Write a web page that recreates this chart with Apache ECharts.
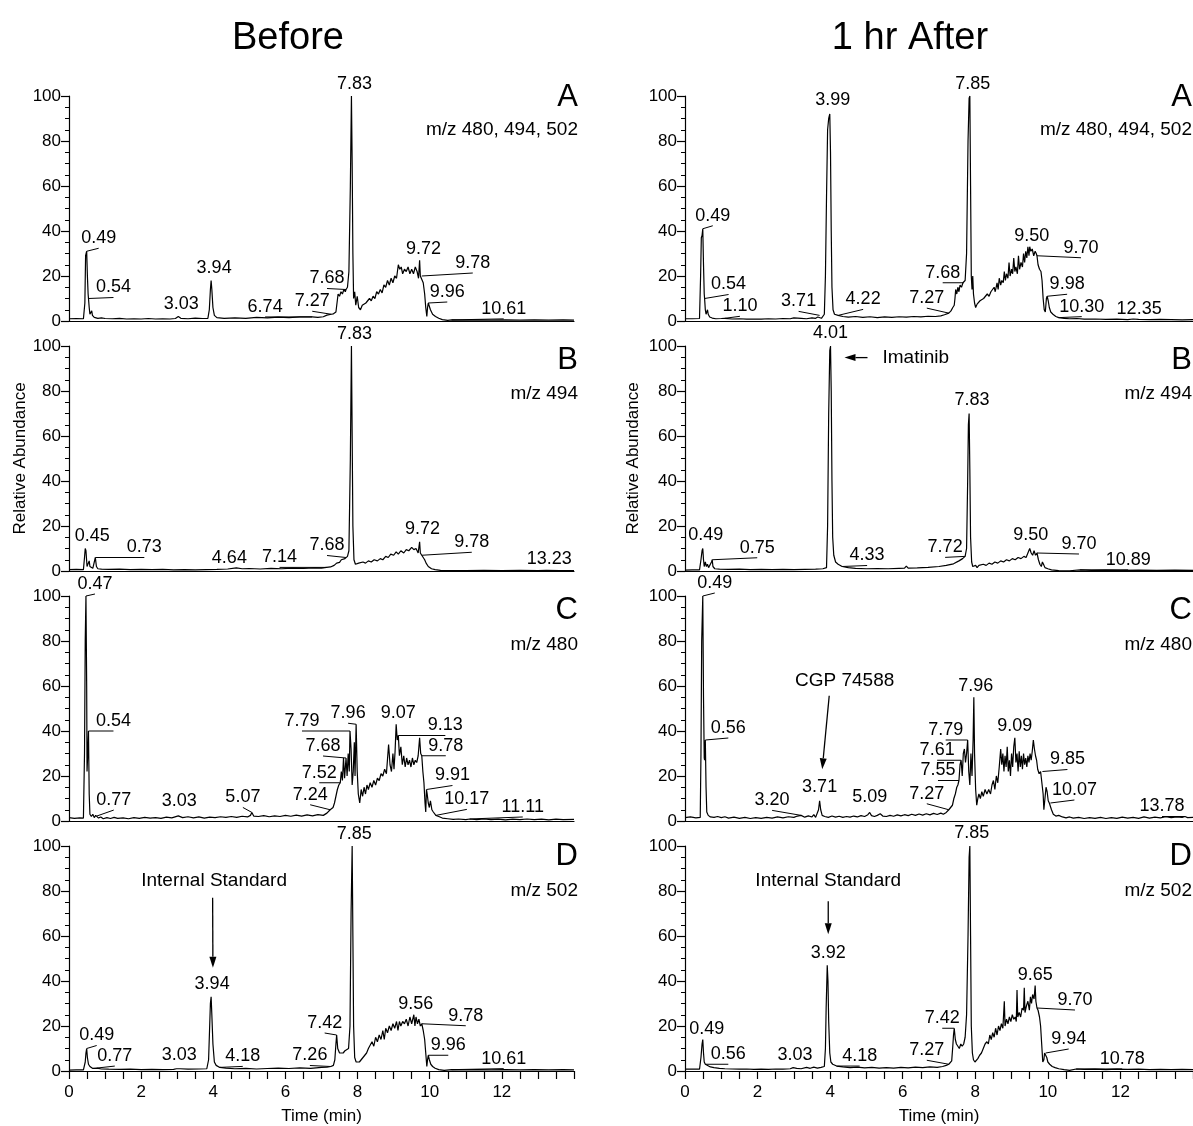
<!DOCTYPE html>
<html><head><meta charset="utf-8">
<script src="https://cdn.jsdelivr.net/npm/echarts@6/dist/echarts.min.js"></script>
<style>html,body{margin:0;padding:0;background:#fff}#c{width:1193px;height:1126px}</style>
</head><body><div id="c"></div>
<script>
// ---------------- DATA ----------------
const columnTitles = ['Before', '1 hr After'];
const panelLetters = ['A', 'B', 'C', 'D'];
const mzTexts = ['m/z 480, 494, 502', 'm/z 494', 'm/z 480', 'm/z 502'];
const xTickValues = [0, 2, 4, 6, 8, 10, 12];
const yTickValues = [0, 20, 40, 60, 80, 100];

// Before, panel A (m/z 480, 494, 502) : [time (min), relative abundance]
const beforeA = [[0,1.0],[0.2,1.1],[0.4,1.0],[0.44,8],[0.46,29],[0.49,31],[0.51,20],[0.53,12],[0.54,10],[0.56,6],[0.58,3],[0.61,2.5],[0.63,4.5],[0.65,2.5],[0.7,1.6],[0.8,1.2],[0.9,1.4],[1.0,1.1],[1.2,1.0],[1.4,1.2],[1.6,0.9],[1.8,1.0],[2.0,0.9],[2.2,1.1],[2.4,0.9],[2.6,1.0],[2.8,0.9],[2.95,1.1],[3.03,2.0],[3.1,1.2],[3.3,1.0],[3.5,1.3],[3.7,1.1],[3.85,1.2],[3.89,5],[3.92,14],[3.94,18],[3.96,14],[3.99,6],[4.03,2.5],[4.1,1.5],[4.3,1.2],[4.6,1.4],[4.9,1.2],[5.2,1.6],[5.5,1.4],[5.8,1.7],[6.1,1.5],[6.4,1.8],[6.74,1.8],[6.9,1.6],[7.05,1.9],[7.15,2.6],[7.2,2.0],[7.27,3.0],[7.33,3.2],[7.4,4.0],[7.44,4.6],[7.46,12],[7.5,11],[7.54,13],[7.58,12],[7.62,14],[7.66,13],[7.68,14],[7.72,15],[7.76,22],[7.8,60],[7.83,100],[7.85,70],[7.87,30],[7.89,10],[7.92,13],[7.95,7],[7.99,11],[8.03,6],[8.08,5],[8.13,7],[8.18,6.5],[8.23,8],[8.28,7.5],[8.33,10],[8.38,9],[8.43,11],[8.48,10],[8.53,13],[8.58,12],[8.63,14],[8.68,12.5],[8.73,16],[8.78,15],[8.83,18],[8.88,16],[8.93,19],[8.98,17],[9.03,20],[9.08,19],[9.13,25],[9.17,23],[9.21,24],[9.25,21],[9.3,23],[9.35,22],[9.4,24],[9.45,21],[9.5,23],[9.55,21],[9.6,24],[9.65,22],[9.69,19],[9.72,27],[9.74,20],[9.78,20],[9.82,17],[9.86,12],[9.89,6],[9.92,2],[9.94,6],[9.96,8],[9.99,7.5],[10.02,5],[10.05,4.5],[10.08,3],[10.12,3.5],[10.16,2],[10.25,1.2],[10.35,0.6],[10.5,0.3],[10.61,0.5],[10.9,0.4],[11.3,0.5],[11.7,0.4],[12.1,0.5],[12.5,0.4],[12.9,0.5],[13.3,0.4],[13.7,0.5],[14,0.4]];
const labelsBeforeA = ['0.49','0.54','3.03','3.94','6.74','7.27','7.68','7.83','9.72','9.78','9.96','10.61'];

// Before, panel B (m/z 494)
const beforeB = [[0,0.6],[0.2,0.7],[0.4,0.6],[0.43,6],[0.45,10],[0.47,9],[0.5,2],[0.53,1.5],[0.56,4.5],[0.58,2],[0.62,2.5],[0.66,1.2],[0.7,2],[0.73,6],[0.76,2],[0.8,1.0],[0.9,0.8],[1.1,0.7],[1.4,0.8],[1.7,0.6],[2.0,0.7],[2.3,0.6],[2.6,0.7],[2.9,0.5],[3.2,0.6],[3.5,0.5],[3.8,0.6],[4.1,0.7],[4.4,0.9],[4.64,1.4],[4.8,1.0],[5.0,1.1],[5.3,0.9],[5.6,1.2],[5.9,1.0],[6.2,1.3],[6.5,1.1],[6.8,1.4],[7.0,1.3],[7.14,1.6],[7.25,1.8],[7.35,2.5],[7.42,3.5],[7.5,3.8],[7.55,5],[7.6,4.5],[7.65,5.5],[7.68,6],[7.72,6.5],[7.76,9],[7.8,50],[7.83,100],[7.85,60],[7.87,20],[7.9,5],[7.94,3],[7.98,2.5],[8.03,3.5],[8.08,3],[8.15,4],[8.22,3.5],[8.3,4.5],[8.38,4],[8.46,5],[8.55,4.5],[8.63,5.5],[8.7,5],[8.78,6.5],[8.85,6],[8.92,7.5],[9.0,7],[9.07,8.5],[9.13,7.5],[9.2,9],[9.28,8],[9.35,9.5],[9.42,9],[9.5,10.5],[9.56,9.5],[9.62,10],[9.68,8],[9.72,13],[9.74,8],[9.78,7],[9.82,6],[9.86,5],[9.9,3.5],[9.93,4],[9.96,2],[10.0,2.5],[10.05,1],[10.15,0.6],[10.3,0.3],[10.6,0.2],[11,0.2],[11.5,0.3],[12,0.2],[12.5,0.3],[13,0.2],[13.23,0.3],[13.6,0.2],[14,0.2]];
const labelsBeforeB = ['0.45','0.73','4.64','7.14','7.68','7.83','9.72','9.78','13.23'];

// Before, panel C (m/z 480)
const beforeC = [[0,1.5],[0.15,1.2],[0.3,1.4],[0.4,1.3],[0.43,30],[0.45,80],[0.47,100],[0.49,60],[0.5,22],[0.52,30],[0.54,40],[0.56,12],[0.58,3],[0.62,2],[0.66,3],[0.7,1.5],[0.74,2.5],[0.77,2.2],[0.82,1.3],[0.88,1.8],[0.95,1.0],[1.05,1.5],[1.15,1.1],[1.25,1.6],[1.35,1.2],[1.5,1.4],[1.65,1.0],[1.8,1.5],[1.95,1.2],[2.1,1.6],[2.25,1.3],[2.4,1.5],[2.55,1.2],[2.7,1.7],[2.85,1.4],[3.03,2.3],[3.15,1.5],[3.3,1.9],[3.45,1.4],[3.6,1.8],[3.75,1.3],[3.9,1.7],[4.05,1.5],[4.2,1.9],[4.35,1.6],[4.5,2.0],[4.65,1.6],[4.8,2.1],[4.95,1.8],[5.03,2.5],[5.07,3.8],[5.12,2.2],[5.25,2.0],[5.4,2.4],[5.55,1.9],[5.7,2.3],[5.85,2.0],[6.0,2.5],[6.15,2.1],[6.3,2.6],[6.45,2.2],[6.6,2.7],[6.75,2.3],[6.9,2.8],[7.05,2.5],[7.15,3.5],[7.2,3],[7.24,5],[7.28,4.5],[7.32,6],[7.36,8],[7.4,11],[7.44,14],[7.48,16],[7.52,17],[7.55,22],[7.58,18],[7.61,28],[7.64,19],[7.68,28],[7.71,20],[7.74,30],[7.77,22],[7.79,40],[7.82,32],[7.85,16],[7.88,22],[7.91,35],[7.93,20],[7.96,43],[7.99,22],[8.02,12],[8.06,8],[8.1,14],[8.14,11],[8.18,15],[8.22,12],[8.26,16],[8.3,14],[8.35,17],[8.4,15],[8.45,18],[8.5,16],[8.55,19],[8.6,18],[8.65,21],[8.7,20],[8.75,23],[8.8,21],[8.86,34],[8.9,25],[8.94,22],[8.98,30],[9.01,23],[9.04,31],[9.07,43],[9.1,36],[9.13,38],[9.16,29],[9.2,33],[9.24,25],[9.28,29],[9.32,24],[9.36,28],[9.4,25],[9.44,27],[9.48,24],[9.52,28],[9.56,25],[9.6,27],[9.64,26],[9.68,29],[9.72,37],[9.75,30],[9.78,29],[9.81,22],[9.84,17],[9.87,8],[9.89,4],[9.91,14],[9.93,12],[9.96,8],[9.99,6],[10.02,9],[10.06,5],[10.1,4],[10.17,2.5],[10.25,2],[10.35,1.3],[10.5,1.0],[10.65,0.7],[10.8,0.9],[11.0,0.6],[11.11,0.9],[11.3,0.6],[11.5,0.9],[11.7,0.6],[11.9,0.8],[12.1,0.5],[12.3,0.8],[12.5,0.6],[12.7,0.9],[12.9,0.6],[13.1,0.8],[13.3,0.5],[13.5,0.8],[13.7,0.6],[14,0.7]];
const labelsBeforeC = ['0.47','0.54','0.77','3.03','5.07','7.24','7.52','7.68','7.79','7.96','9.07','9.13','9.78','9.91','10.17','11.11'];

// Before, panel D (m/z 502)
const beforeD = [[0,0.4],[0.2,0.5],[0.4,0.5],[0.45,4],[0.47,8],[0.49,10],[0.51,6],[0.54,3],[0.58,2],[0.65,1.2],[0.77,1.3],[0.9,0.9],[1.1,0.8],[1.4,0.7],[1.7,0.8],[2.0,0.6],[2.3,0.7],[2.6,0.6],[2.9,0.7],[2.98,1.0],[3.03,1.8],[3.08,1.0],[3.3,0.8],[3.6,0.9],[3.82,1.0],[3.87,5],[3.9,20],[3.92,30],[3.94,33],[3.96,25],[3.99,12],[4.03,4],[4.08,2.5],[4.18,1.6],[4.35,1.3],[4.6,1.0],[4.9,1.2],[5.2,0.9],[5.5,1.1],[5.8,1.3],[6.1,1.1],[6.4,1.4],[6.7,1.2],[7.0,1.6],[7.15,1.7],[7.26,2.0],[7.33,2.5],[7.37,5],[7.4,12],[7.42,16],[7.45,10],[7.5,8],[7.55,8.5],[7.6,8],[7.65,9],[7.7,8.5],[7.75,10],[7.79,20],[7.82,70],[7.85,100],[7.87,60],[7.89,20],[7.92,6],[7.96,4],[8.0,3.5],[8.05,4],[8.1,5],[8.15,5.5],[8.2,7],[8.25,8],[8.3,10],[8.35,9.5],[8.4,13],[8.45,11],[8.5,15],[8.55,13],[8.6,16],[8.65,14],[8.7,18],[8.74,14],[8.78,19],[8.83,17],[8.88,20],[8.93,18],[8.98,21],[9.03,19],[9.08,22],[9.12,18],[9.16,22],[9.2,20],[9.25,22],[9.3,21],[9.35,23],[9.4,20],[9.45,24],[9.5,21],[9.53,23],[9.56,25],[9.59,20],[9.62,24],[9.66,21],[9.7,23],[9.74,20],[9.78,21],[9.82,18],[9.86,14],[9.89,8],[9.92,2],[9.94,5],[9.96,7],[9.99,5],[10.03,3],[10.08,2],[10.15,1.2],[10.25,0.6],[10.4,0.3],[10.61,0.6],[10.9,0.5],[11.3,0.6],[11.7,0.5],[12.1,0.6],[12.5,0.5],[12.9,0.6],[13.3,0.5],[13.7,0.6],[14,0.5]];
const labelsBeforeD = ['0.49','0.77','3.03','3.94','4.18','7.26','7.42','7.85','9.56','9.78','9.96','10.61'];

// 1 hr After, panel A (m/z 480, 494, 502)
const afterA = [[0,1.0],[0.2,1.0],[0.4,1.1],[0.43,20],[0.45,37],[0.47,38],[0.49,41],[0.51,25],[0.53,12],[0.54,10],[0.56,5],[0.58,3],[0.6,2.5],[0.62,5],[0.64,3],[0.68,1.8],[0.75,1.3],[0.85,1.0],[1.0,1.1],[1.1,1.2],[1.3,0.9],[1.5,1.0],[1.7,0.8],[1.9,0.9],[2.1,0.8],[2.3,1.0],[2.5,0.9],[2.7,1.1],[2.9,1.0],[3.0,1.4],[3.05,1.0],[3.2,1.2],[3.35,1.0],[3.5,1.4],[3.6,1.2],[3.66,1.8],[3.71,2.5],[3.76,1.2],[3.8,2.0],[3.84,3],[3.87,20],[3.9,55],[3.93,85],[3.96,90],[3.99,92],[4.01,75],[4.03,40],[4.05,15],[4.08,5],[4.12,3],[4.22,2.5],[4.35,2.0],[4.5,1.7],[4.7,2.0],[4.9,1.6],[5.1,1.9],[5.3,1.5],[5.5,1.8],[5.7,1.6],[5.9,1.9],[6.1,1.7],[6.3,2.0],[6.5,1.8],[6.7,2.1],[6.9,2.0],[7.05,2.3],[7.15,2.8],[7.27,3.5],[7.33,4.5],[7.38,6],[7.42,7],[7.44,10],[7.46,14],[7.49,12],[7.52,15],[7.55,13],[7.58,16],[7.62,15],[7.66,17],[7.68,17],[7.72,18],[7.76,30],[7.8,80],[7.83,99],[7.85,100],[7.87,60],[7.89,20],[7.91,14],[7.93,20],[7.95,12],[7.98,8],[8.01,6],[8.05,7.5],[8.09,7],[8.13,9],[8.18,8.5],[8.23,10],[8.28,9.5],[8.33,12],[8.38,11],[8.43,13],[8.48,12.5],[8.52,15],[8.55,13],[8.6,17],[8.63,14],[8.66,19],[8.7,16],[8.73,18],[8.77,17],[8.8,22],[8.83,18],[8.86,21],[8.9,19],[8.93,26],[8.96,20],[9.0,23],[9.03,21],[9.06,28],[9.09,22],[9.12,24],[9.16,21],[9.19,29],[9.22,23],[9.26,26],[9.3,24],[9.33,30],[9.36,26],[9.39,31],[9.42,28],[9.45,33],[9.48,29],[9.5,33],[9.53,31],[9.57,32],[9.61,29],[9.65,31],[9.68,30],[9.7,29],[9.73,25],[9.77,23],[9.81,22],[9.84,18],[9.87,10],[9.9,5],[9.93,4],[9.96,10],[9.98,11],[10.01,9],[10.04,6],[10.08,4],[10.14,3],[10.22,2],[10.3,1.5],[10.45,1.2],[10.6,1.0],[10.8,1.1],[11.0,0.8],[11.3,0.9],[11.6,0.7],[11.9,0.8],[12.2,0.6],[12.35,0.9],[12.5,0.7],[12.8,0.6],[13.1,0.7],[13.4,0.6],[13.7,0.5],[14,0.6]];
const labelsAfterA = ['0.49','0.54','1.10','3.71','3.99','4.22','7.27','7.68','7.85','9.50','9.70','9.98','10.30','12.35'];

// 1 hr After, panel B (m/z 494)
const afterB = [[0,0.4],[0.2,0.5],[0.4,0.5],[0.44,5],[0.47,9],[0.49,10],[0.51,5],[0.53,2],[0.56,4],[0.59,2],[0.62,3],[0.65,1.5],[0.7,2],[0.73,4],[0.75,5],[0.77,2],[0.82,1.0],[0.95,0.8],[1.2,0.7],[1.5,0.8],[1.8,0.6],[2.1,0.7],[2.4,0.6],[2.7,0.7],[3.0,0.6],[3.3,0.7],[3.6,0.8],[3.8,1.0],[3.9,1.5],[3.93,20],[3.96,70],[3.99,98],[4.01,100],[4.03,80],[4.05,40],[4.07,15],[4.1,7],[4.15,4],[4.22,3],[4.33,2],[4.5,1.5],[4.7,1.2],[5.0,1.0],[5.3,1.1],[5.6,1.0],[5.9,1.2],[6.05,1.3],[6.1,2.2],[6.15,1.3],[6.4,1.4],[6.7,1.6],[7.0,2.0],[7.2,2.5],[7.4,3.2],[7.55,4.5],[7.65,5.5],[7.72,6.5],[7.76,10],[7.79,40],[7.81,65],[7.83,70],[7.85,45],[7.87,15],[7.9,4],[7.93,2],[7.97,1.5],[8.01,2.5],[8.05,1.5],[8.1,2.5],[8.15,2],[8.22,3],[8.3,2.5],[8.38,3.5],[8.46,3],[8.54,4],[8.62,3.5],[8.7,4.5],[8.78,4],[8.86,5],[8.94,4.5],[9.02,5.5],[9.1,5],[9.18,6],[9.26,5.5],[9.34,6.5],[9.4,6],[9.45,8],[9.5,10],[9.54,8],[9.58,7],[9.62,9],[9.66,7],[9.7,8],[9.74,5],[9.78,3],[9.82,2],[9.85,4],[9.88,3],[9.92,1.5],[10.0,1.0],[10.1,0.5],[10.3,0.2],[10.6,0.1],[10.89,0.5],[11.2,0.3],[11.6,0.4],[12,0.3],[12.5,0.4],[13,0.3],[13.5,0.4],[14,0.3]];
const labelsAfterB = ['0.49','0.75','4.01','4.33','7.72','7.83','9.50','9.70','10.89'];

// 1 hr After, panel C (m/z 480)
const afterC = [[0,1.5],[0.15,1.8],[0.3,1.4],[0.42,1.6],[0.44,30],[0.46,80],[0.49,100],[0.51,55],[0.53,28],[0.54,27],[0.56,36],[0.58,15],[0.6,4],[0.64,2.5],[0.7,1.8],[0.75,2.4],[0.8,1.6],[0.9,2.0],[1.0,1.5],[1.1,1.9],[1.2,1.3],[1.35,1.7],[1.5,1.2],[1.65,1.6],[1.8,1.1],[1.95,1.5],[2.1,1.2],[2.25,1.6],[2.4,1.3],[2.55,1.8],[2.7,1.4],[2.85,1.9],[3.0,1.6],[3.1,2.2],[3.2,2.5],[3.3,1.7],[3.4,2.3],[3.5,1.8],[3.55,2.8],[3.6,1.6],[3.65,2.0],[3.68,5],[3.71,9],[3.74,5],[3.78,2.5],[3.85,2.0],[3.95,1.6],[4.05,2.2],[4.15,1.7],[4.25,2.1],[4.35,1.6],[4.45,2.0],[4.55,1.7],[4.65,2.2],[4.75,1.8],[4.85,2.4],[4.95,2.0],[5.04,2.8],[5.09,3.8],[5.14,2.4],[5.22,2.0],[5.3,2.5],[5.38,3.2],[5.45,2.2],[5.55,2.0],[5.65,2.5],[5.75,2.1],[5.85,2.7],[5.95,2.3],[6.05,2.8],[6.15,2.4],[6.25,3.0],[6.35,2.5],[6.45,3.1],[6.55,2.6],[6.65,3.2],[6.75,2.7],[6.85,3.4],[6.95,2.9],[7.05,3.5],[7.12,3.0],[7.2,3.8],[7.27,5],[7.32,5.5],[7.37,7],[7.41,10],[7.45,12],[7.49,15],[7.52,16],[7.55,18],[7.58,25],[7.61,27],[7.64,20],[7.67,30],[7.7,32],[7.73,26],[7.76,30],[7.79,36],[7.82,22],[7.85,16],[7.88,30],[7.91,20],[7.94,36],[7.96,55],[7.98,30],[8.01,14],[8.04,7],[8.07,10],[8.1,12],[8.14,10],[8.18,13],[8.22,11],[8.27,14],[8.32,12],[8.37,14],[8.42,12],[8.46,16],[8.5,18],[8.54,14],[8.58,20],[8.62,17],[8.66,24],[8.7,32],[8.73,25],[8.76,30],[8.79,22],[8.82,29],[8.85,24],[8.88,33],[8.91,22],[8.94,27],[8.97,20],[9.0,30],[9.03,24],[9.06,33],[9.09,37],[9.12,26],[9.15,30],[9.18,22],[9.21,31],[9.24,24],[9.27,29],[9.3,23],[9.33,30],[9.36,25],[9.39,28],[9.42,24],[9.45,29],[9.48,26],[9.51,30],[9.54,27],[9.57,31],[9.6,36],[9.63,32],[9.66,29],[9.69,27],[9.72,23],[9.76,21],[9.8,22],[9.85,22],[9.87,12],[9.89,5],[9.92,10],[9.95,15],[9.98,13],[10.01,9],[10.04,8],[10.07,8],[10.1,5],[10.15,3],[10.22,2.2],[10.3,2.5],[10.4,1.8],[10.5,1.4],[10.6,1.8],[10.7,1.3],[10.85,1.6],[11.0,1.1],[11.15,1.5],[11.3,1.2],[11.45,1.6],[11.6,1.1],[11.75,1.5],[11.9,1.2],[12.05,1.7],[12.2,1.3],[12.35,1.6],[12.5,1.2],[12.65,1.8],[12.8,1.3],[12.95,1.7],[13.1,1.4],[13.25,1.9],[13.4,1.5],[13.55,1.8],[13.7,1.6],[13.78,2.0],[13.85,1.5],[14,1.6]];
const labelsAfterC = ['0.49','0.56','3.20','3.71','5.09','7.27','7.55','7.61','7.79','7.96','9.09','9.85','10.07','13.78'];

// 1 hr After, panel D (m/z 502)
const afterD = [[0,0.8],[0.2,0.9],[0.4,0.8],[0.44,6],[0.47,12],[0.49,14],[0.51,8],[0.53,4],[0.56,3],[0.6,2.5],[0.7,1.8],[0.8,1.5],[0.95,1.2],[1.1,1.0],[1.3,0.9],[1.5,0.8],[1.7,0.9],[1.9,0.7],[2.1,0.8],[2.3,0.7],[2.5,0.9],[2.7,0.8],[2.9,1.0],[2.98,1.5],[3.03,2.0],[3.08,1.2],[3.2,1.0],[3.35,1.6],[3.45,1.2],[3.55,1.7],[3.65,1.3],[3.75,1.6],[3.84,2.0],[3.87,10],[3.89,28],[3.92,47],[3.94,40],[3.96,22],[3.99,8],[4.02,4],[4.07,3],[4.18,2.2],[4.35,1.8],[4.55,1.5],[4.75,1.7],[4.95,1.4],[5.15,1.6],[5.35,1.3],[5.55,1.5],[5.75,1.3],[5.95,1.6],[6.15,1.4],[6.35,1.7],[6.55,1.5],[6.75,1.8],[6.95,1.6],[7.1,2.0],[7.2,2.5],[7.27,3.0],[7.31,3.8],[7.35,4.5],[7.38,11],[7.4,16],[7.42,19],[7.45,14],[7.48,12],[7.52,11],[7.56,10],[7.6,12],[7.64,11],[7.68,12],[7.72,15],[7.76,25],[7.8,60],[7.83,95],[7.85,100],[7.87,60],[7.89,20],[7.92,8],[7.95,5],[7.99,4],[8.03,4.5],[8.07,5.5],[8.12,7],[8.17,8],[8.22,10],[8.27,12],[8.32,13],[8.36,12],[8.4,16],[8.44,14],[8.48,17],[8.52,15],[8.56,19],[8.6,16],[8.64,20],[8.68,18],[8.72,21],[8.76,19],[8.8,31],[8.82,20],[8.86,23],[8.9,21],[8.94,24],[8.98,22],[9.02,25],[9.06,23],[9.1,24],[9.13,22],[9.15,36],[9.17,24],[9.21,26],[9.25,24],[9.29,28],[9.33,27],[9.35,37],[9.37,26],[9.41,29],[9.45,31],[9.49,27],[9.52,33],[9.55,30],[9.58,34],[9.62,32],[9.65,38],[9.67,31],[9.7,28],[9.73,27],[9.77,24],[9.8,20],[9.83,12],[9.86,4],[9.89,5],[9.91,8],[9.94,8],[9.97,6],[10.0,4],[10.05,3],[10.12,2],[10.2,1.5],[10.3,1.0],[10.45,0.6],[10.6,0.3],[10.78,0.9],[11.0,0.7],[11.3,0.8],[11.6,0.6],[11.9,0.8],[12.2,0.7],[12.5,0.8],[12.8,0.6],[13.1,0.7],[13.4,0.6],[13.7,0.7],[14,0.6]];
const labelsAfterD = ['0.49','0.56','3.03','3.92','4.18','7.27','7.42','7.85','9.65','9.70','9.94','10.78'];

// Annotations: panel index, peak time they point to, text
const annotationTexts = [
  {panel: 3, t: 3.94, text: 'Internal Standard'},
  {panel: 5, t: 4.01, text: 'Imatinib'},
  {panel: 6, t: 3.71, text: 'CGP 74588'},
  {panel: 7, t: 3.92, text: 'Internal Standard'}
];

// ---------------- LAYOUT / STYLE (pixels) ----------------
// label offsets [dx, dy] from peak point to text bottom-centre (leader line end)
const labelLayout = [
  [[12,-3],[25,-1],[3,-2],[3,-2],[-47,0],[-19,-3],[-19,-1],[3,-2],[4,-1],[51,-3],[19,-1],[52,-1]],
  [[7,-2],[49,0],[-7,0],[-47,0],[-19,-2],[3,-2],[3,-3],[50,-3],[3,-1]],
  [[9,-2],[25,0],[17,-6],[1,-5],[-9,-5],[-20,-5],[-21,0],[-23,-2],[-48,0],[-8,-1],[2,-1],[47,0],[24,0],[26,-4],[31,-6],[53,-2]],
  [[10,-3],[18,-2],[1,-2],[1,-3],[23,-1],[-21,-1],[-12,-2],[2,-2],[2,-1],[44,2],[20,0],[52,-1]],
  [[10,-3],[24,-4],[15,-2],[-21,-4],[3,-4],[25,-6],[-22,-5],[-21,0],[3,-2],[2,-1],[44,2],[20,-2],[23,-1],[6,0]],
  [[3,-3],[45,-2],[0,-3],[25,-1],[-20,1],[3,-3],[1,-3],[42,1],[48,0]],
  [[12,-3],[23,-2],[-29,-5],[0,-4],[0,-5],[-22,-6],[-21,0],[-24,0],[-22,0],[2,-1],[0,-2],[25,-2],[24,-3],[-23,0]],
  [[4,0],[23,0],[0,-1],[1,-2],[23,0],[-22,-4],[-12,0],[2,-3],[0,0],[38,2],[23,-4],[46,0]]
];
// annotation geometry relative to the peak point: text centre, arrow tail, arrow tip
const annotationLayout = [
  {tc: [3,-116], tail: [1.5,-99], tip: [1.8,-29], align: 'center'},
  {tc: [52,11.6], tail: [37,11.6], tip: [14,11.6], align: 'left'},
  {tc: [25,-120], tail: [9.6,-105], tip: [2.6,-31.5], align: 'center'},
  {tc: [1,-84], tail: [1,-64], tip: [1,-31], align: 'center'}
];
const L = {
  colLeft: [69, 685], colWidth: [505, 514], xMax: 14,
  rowTop: [96, 346, 596, 846], rowHeight: 225,
  letterRight: [578, 1192], letterDy: [1, 14, 14, 10], mzDy: [34, 48, 49, 45],
  titleX: [288, 910], titleY: 39
};
const FONT = '"Liberation Sans", Arial, Helvetica, sans-serif';

// ---------------- BUILD ----------------
const traces = [beforeA, beforeB, beforeC, beforeD, afterA, afterB, afterC, afterD];
const labelSets = [labelsBeforeA, labelsBeforeB, labelsBeforeC, labelsBeforeD, labelsAfterA, labelsAfterB, labelsAfterC, labelsAfterD];

function valueAt(trace, t) {
  let best = trace[0];
  for (const p of trace) if (Math.abs(p[0] - t) < Math.abs(best[0] - t)) best = p;
  return best[1];
}
function arrowShapes(x1, y1, x2, y2) {
  const dx = x2 - x1, dy = y2 - y1, len = Math.hypot(dx, dy), ux = dx / len, uy = dy / len;
  const hl = 11, hw = 3.5, bx = x2 - ux * hl, by = y2 - uy * hl;
  return [
    {type: 'line', shape: {x1: x1, y1: y1, x2: bx, y2: by}, style: {stroke: '#000', lineWidth: 1.3}},
    {type: 'polygon', shape: {points: [[x2, y2], [bx - uy * hw, by + ux * hw], [bx + uy * hw, by - ux * hw]]}, style: {fill: '#000'}}
  ];
}

const grids = [], xAxes = [], yAxes = [], series = [], graphics = [];
for (let i = 0; i < 8; i++) {
  const col = Math.floor(i / 4), row = i % 4;
  grids.push({left: L.colLeft[col], top: L.rowTop[row], width: L.colWidth[col], height: L.rowHeight, containLabel: false});
  const bottom = row === 3;
  xAxes.push({
    type: 'value', gridIndex: i, min: 0, max: L.xMax, interval: 2,
    axisLine: {show: true, onZero: false, lineStyle: {color: '#000', width: 1.2}},
    axisTick: {show: bottom, length: 8, lineStyle: {color: '#000', width: 1.2}},
    minorTick: {show: bottom, splitNumber: 4, length: 8, lineStyle: {color: '#000', width: 1.2}},
    splitLine: {show: false}, minorSplitLine: {show: false},
    axisLabel: {show: bottom, showMaxLabel: false, margin: 13, color: '#000', fontSize: 17, fontFamily: FONT,
      formatter: v => (xTickValues.indexOf(v) >= 0 ? String(v) : '')},
    name: bottom ? 'Time (min)' : '', nameLocation: 'middle', nameGap: 37,
    nameTextStyle: {color: '#000', fontSize: 17, fontFamily: FONT}
  });
  yAxes.push({
    type: 'value', gridIndex: i, min: 0, max: 100, interval: 20,
    axisLine: {show: true, lineStyle: {color: '#000', width: 1.2}},
    axisTick: {show: true, length: 8, lineStyle: {color: '#000', width: 1.2}},
    minorTick: {show: true, splitNumber: 4, length: 4, lineStyle: {color: '#000', width: 1}},
    splitLine: {show: false}, minorSplitLine: {show: false},
    axisLabel: {color: '#000', fontSize: 17, fontFamily: FONT, margin: 8,
      formatter: v => (yTickValues.indexOf(v) >= 0 ? String(v) : '')},
    name: row === 1 ? 'Relative Abundance' : '', nameLocation: 'middle', nameRotate: 90,
    nameGap: col === 0 ? 40 : 43,
    nameTextStyle: {color: '#000', fontSize: 17, fontFamily: FONT}
  });
  series.push({
    type: 'line', xAxisIndex: i, yAxisIndex: i, data: traces[i], showSymbol: false, symbol: 'none',
    lineStyle: {color: '#000', width: 1.2}, silent: true, animation: false, z: 3
  });
  const labels = labelSets[i], offs = labelLayout[i], tr = traces[i];
  series.push({
    type: 'custom', xAxisIndex: i, yAxisIndex: i, silent: true, animation: false, z: 5,
    encode: {x: 0, y: 1},
    data: labels.map((s, k) => [parseFloat(s), valueAt(tr, parseFloat(s)), k]),
    renderItem: (params, api) => {
      const p = api.coord([api.value(0), api.value(1)]);
      const k = api.value(2), o = offs[k];
      const ex = p[0] + o[0], ey = p[1] + o[1];
      const children = [];
      if (Math.hypot(o[0], o[1]) > 8) {
        children.push({type: 'line', shape: {x1: p[0], y1: p[1], x2: ex, y2: ey}, style: {stroke: '#000', lineWidth: 1}});
      }
      children.push({type: 'text', style: {text: labels[k], x: ex, y: ey - 1, align: 'center', verticalAlign: 'bottom',
        font: '18px ' + FONT, fill: '#000'}});
      return {type: 'group', children: children};
    }
  });
  // panel letter and m/z text
  graphics.push({type: 'text', style: {text: panelLetters[row], x: L.letterRight[col], y: L.rowTop[row] + L.letterDy[row],
    align: 'right', verticalAlign: 'middle', font: '31px ' + FONT, fill: '#000'}});
  graphics.push({type: 'text', style: {text: mzTexts[row], x: L.letterRight[col], y: L.rowTop[row] + L.mzDy[row],
    align: 'right', verticalAlign: 'middle', font: '19px ' + FONT, fill: '#000'}});
}
annotationTexts.forEach((a, j) => {
  const g = annotationLayout[j];
  series.push({
    type: 'custom', xAxisIndex: a.panel, yAxisIndex: a.panel, silent: true, animation: false, z: 6,
    encode: {x: 0, y: 1},
    data: [[a.t, valueAt(traces[a.panel], a.t)]],
    renderItem: (params, api) => {
      const p = api.coord([api.value(0), api.value(1)]);
      const children = arrowShapes(p[0] + g.tail[0], p[1] + g.tail[1], p[0] + g.tip[0], p[1] + g.tip[1]);
      children.push({type: 'text', style: {text: a.text, x: p[0] + g.tc[0], y: p[1] + g.tc[1], align: g.align, verticalAlign: 'middle',
        font: '19px ' + FONT, fill: '#000'}});
      return {type: 'group', children: children};
    }
  });
});
columnTitles.forEach((t, c) => {
  graphics.push({type: 'text', style: {text: t, x: L.titleX[c], y: L.titleY, align: 'center', verticalAlign: 'middle',
    font: '38px ' + FONT, fill: '#000'}});
});

const chart = echarts.init(document.getElementById('c'), null, {renderer: 'canvas'});
chart.setOption({
  backgroundColor: '#fff',
  animation: false,
  grid: grids, xAxis: xAxes, yAxis: yAxes, series: series,
  graphic: {elements: graphics}
});
</script>
</body></html>
